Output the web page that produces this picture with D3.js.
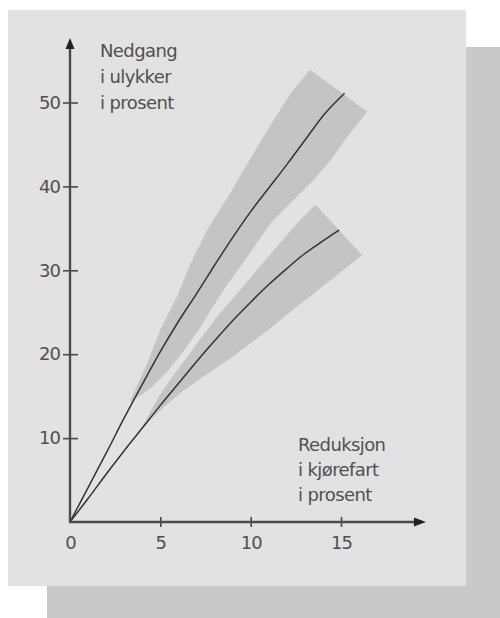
<!DOCTYPE html>
<html>
<head>
<meta charset="utf-8">
<script src="https://cdn.jsdelivr.net/npm/d3@7"></script>
<style>
  html, body { margin: 0; padding: 0; background: #fff; }
  svg { display: block; font-family: "DejaVu Sans", sans-serif; }
</style>
</head>
<body>
<script>
// speed reduction (%) and accident reduction (%)
const speedUpper = [0, 1, 2, 3, 4, 5, 6, 7, 8, 9, 10, 11, 12, 13, 14, 15.2];
const accUpper = [0, 4.1, 8.2, 12.4, 16.4, 20.3, 23.9, 27.2, 30.6, 33.9, 37.0, 39.8, 42.6, 45.5, 48.4, 51.1];

const speedLower = [0, 1, 2, 3, 4, 5, 6, 7, 8, 9, 10, 11, 12, 13, 14, 14.9];
const accLower = [0, 2.8, 5.7, 8.5, 11.2, 13.9, 16.5, 19.1, 21.6, 24.0, 26.2, 28.3, 30.2, 32.0, 33.5, 34.8];

// uncertainty bands, outline as [speed, accidents]
const bandUpper = [
  [3.3, 14.2], [3.72, 16.3], [4.27, 18.9], [5.0, 22.9], [5.93, 26.9], [6.67, 30.8],
  [7.59, 34.8], [8.88, 39.2], [9.62, 42.0], [10.36, 44.7], [11.28, 47.9], [12.2, 51.1],
  [13.3, 53.9], [16.45, 48.9], [15.34, 45.9], [14.41, 43.1], [13.49, 40.8], [12.39, 38.4],
  [11.1, 35.6], [9.81, 31.6], [8.51, 27.7], [7.22, 23.2], [6.3, 20.4], [5.38, 17.9], [4.5, 16.0]
];
const bandLower = [
  [3.9, 11.0], [5.01, 15.3], [5.93, 18.1], [7.04, 21.3], [8.15, 24.5], [9.44, 27.7],
  [10.17, 29.6], [11.28, 32.4], [12.57, 35.6], [13.59, 37.8], [16.17, 31.8], [14.42, 28.8],
  [12.57, 25.7], [10.73, 22.5], [8.88, 19.5], [7.5, 17.5], [6.3, 15.7], [5.19, 13.7]
];

const xTicks = [0, 5, 10, 15];
const yTicks = [10, 20, 30, 40, 50];
const yTitle = ["Nedgang", "i ulykker", "i prosent"];
const xTitle = ["Reduksjon", "i kjørefart", "i prosent"];

const width = 500, height = 618;
const ink = "#4a4a4a";

const svg = d3.select("body").append("svg")
  .attr("width", width)
  .attr("height", height);

// backing shadow and paper panel
svg.append("rect").attr("x", 47).attr("y", 47).attr("width", 453).attr("height", 571).attr("fill", "#c9c9c9");
svg.append("rect").attr("x", 8).attr("y", 10).attr("width", 458).attr("height", 576).attr("fill", "#e2e2e2");

const x = d3.scaleLinear().domain([0, 15]).range([70, 341]);
const y = d3.scaleLinear().domain([0, 50]).range([522, 102.5]);

const xEnd = 19.7, yEnd = 57.7;

// bands
const outline = d3.line()
  .x((d) => x(d[0]))
  .y((d) => y(d[1]))
  .curve(d3.curveLinearClosed);

svg.append("g")
  .selectAll("path")
  .data([bandUpper, bandLower])
  .join("path")
  .attr("d", outline)
  .attr("fill", "#c4c4c4");

// lines
const curve = d3.line()
  .x((d) => x(d[0]))
  .y((d) => y(d[1]))
  .curve(d3.curveMonotoneX);

const series = [
  d3.zip(speedUpper, accUpper),
  d3.zip(speedLower, accLower),
];

svg.append("g")
  .selectAll("path")
  .data(series)
  .join("path")
  .attr("d", curve)
  .attr("fill", "none")
  .attr("stroke", "#333")
  .attr("stroke-width", 1.5)
  .attr("stroke-linejoin", "round");

// y axis
const yAxis = svg.append("g")
  .attr("transform", `translate(${x(0)},0)`)
  .call(d3.axisLeft(y).tickValues(yTicks).tickSize(7).tickPadding(3));
yAxis.select(".domain").remove();
yAxis.selectAll(".tick line").attr("x2", 8).attr("x1", -7).attr("stroke", ink).attr("stroke-width", 1.6);
yAxis.selectAll(".tick text")
  .attr("fill", "#505050")
  .attr("font-size", 18)
  .attr("font-family", "DejaVu Sans, sans-serif")
  .attr("letter-spacing", "-1px");

// x axis
const xAxis = svg.append("g")
  .attr("transform", `translate(0,${y(0)})`)
  .call(d3.axisBottom(x).tickValues(xTicks).tickSize(5).tickPadding(9));
xAxis.select(".domain").remove();
xAxis.selectAll(".tick line").attr("y1", -5).attr("y2", 5).attr("stroke", ink).attr("stroke-width", 1.6);
xAxis.selectAll(".tick").filter((d) => d === 0).select("line").remove();
xAxis.selectAll(".tick text")
  .attr("fill", "#505050")
  .attr("font-size", 18)
  .attr("font-family", "DejaVu Sans, sans-serif")
  .attr("letter-spacing", "-1px");

// axis lines with arrowheads
svg.append("line")
  .attr("x1", x(0)).attr("y1", y(0))
  .attr("x2", x(0)).attr("y2", y(yEnd) + 8)
  .attr("stroke", ink).attr("stroke-width", 2.4);
svg.append("line")
  .attr("x1", x(0) - 1).attr("y1", y(0))
  .attr("x2", x(xEnd) - 8).attr("y2", y(0))
  .attr("stroke", ink).attr("stroke-width", 2.4);

svg.append("path")
  .attr("d", `M${x(0)},${y(yEnd)} l-4.5,11 l9,0 Z`)
  .attr("fill", "#222");
svg.append("path")
  .attr("d", `M${x(xEnd)},${y(0)} l-12,-4.5 l0,9 Z`)
  .attr("fill", "#222");

// axis titles
svg.append("text")
  .attr("x", 100)
  .attr("y", 57)
  .attr("fill", "#505050")
  .attr("font-size", 18)
  .attr("letter-spacing", "-0.6px")
  .selectAll("tspan")
  .data(yTitle)
  .join("tspan")
  .attr("x", 100)
  .attr("dy", (d, i) => (i === 0 ? 0 : 26))
  .text((d) => d);

svg.append("text")
  .attr("x", 298)
  .attr("y", 451)
  .attr("fill", "#505050")
  .attr("font-size", 18)
  .attr("letter-spacing", "-0.6px")
  .selectAll("tspan")
  .data(xTitle)
  .join("tspan")
  .attr("x", 298)
  .attr("dy", (d, i) => (i === 0 ? 0 : 25))
  .text((d) => d);
</script>
</body>
</html>
